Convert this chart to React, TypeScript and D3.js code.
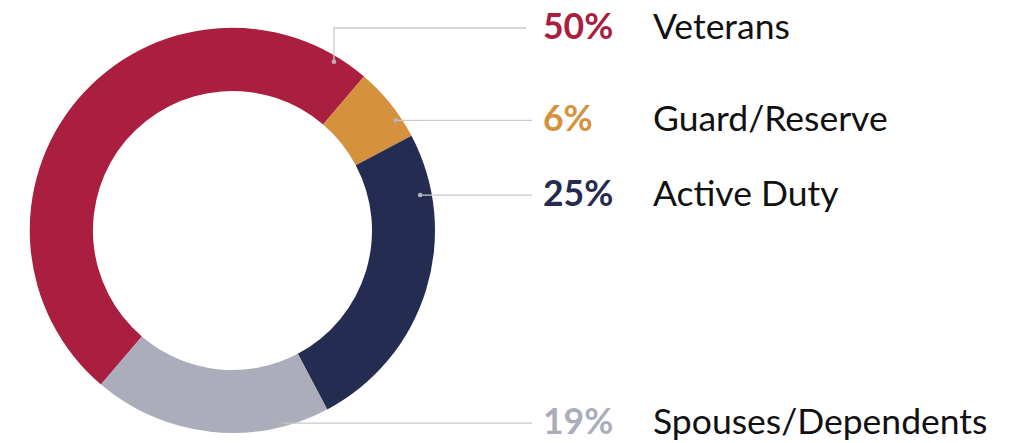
import React from "react";
import * as d3 from "d3";

const categories = ["Veterans", "Guard/Reserve", "Active Duty", "Spouses/Dependents"];
const values = [50, 6, 25, 19];
const percentLabels = ["50%", "6%", "25%", "19%"];
const colors = ["#AA1E40", "#D5913C", "#242D51", "#ACADBA"];

// layout constants
const W = 1019;
const H = 443;
const CX = 232.5;
const CY = 230.5;
const R_OUT = 202.5;
const R_IN = 139.5;
const START_DEG = -139.5;
// leader anchor angle (deg, clockwise from 12 o'clock) and radius for each slice
const anchorDeg = [31, 56, 79.3, 166];
const anchorR = [197, 197, 191, 198.5];
// y of the label row for each slice
const labelY = [28, null, null, null];
const lineEndX = [526, 532, 532, 532];
const pctX = 543;
const nameX = 653;
const FONT = "Lato, 'Source Sans Pro', 'Noto Sans', sans-serif";

export default function App() {
  const pie = d3
    .pie<number>()
    .sort(null)
    .value((d) => d)
    .startAngle((START_DEG * Math.PI) / 180)
    .endAngle((START_DEG * Math.PI) / 180 + 2 * Math.PI);
  const arcs = pie(values);
  const arc = d3.arc<d3.PieArcDatum<number>>().innerRadius(R_IN).outerRadius(R_OUT);

  return (
    <svg
      width={W}
      height={H}
      style={{ position: "absolute", left: 0, top: 0, background: "#fff" }}
    >
      <g transform={`translate(${CX},${CY})`}>
        {arcs.map((a, i) => (
          <path key={i} d={arc(a) || ""} fill={colors[i]} />
        ))}
      </g>
      {categories.map((c, i) => {
        const ang = (anchorDeg[i] * Math.PI) / 180;
        const dx = CX + anchorR[i] * Math.sin(ang);
        const dy = CY - anchorR[i] * Math.cos(ang);
        const ly = labelY[i] != null ? (labelY[i] as number) : dy;
        const pts: [number, number][] =
          labelY[i] != null
            ? [
                [dx, dy],
                [dx, ly],
                [lineEndX[i], ly],
              ]
            : [
                [dx, dy],
                [lineEndX[i], ly],
              ];
        const line = d3.line();
        return (
          <g key={c}>
            <path d={line(pts) || ""} fill="none" stroke="#C9C9C9" strokeWidth={1.3} />
            <circle cx={dx} cy={dy} r={2.3} fill="#B3B3B3" />
            <text
              x={pctX}
              y={ly + 11}
              fill={colors[i]}
              fontFamily={FONT}
              fontWeight={700}
              fontSize={35.5}
            >
              {percentLabels[i]}
            </text>
            <text x={nameX} y={ly + 11} fill="#111" fontFamily={FONT} fontSize={35.5}>
              {c}
            </text>
          </g>
        );
      })}
    </svg>
  );
}
